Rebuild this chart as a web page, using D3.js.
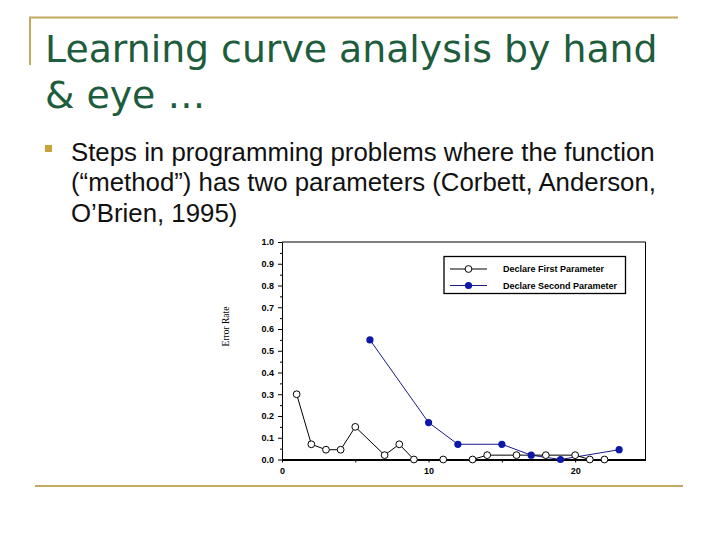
<!DOCTYPE html>
<html>
<head>
<meta charset="utf-8">
<title>Learning curve analysis</title>
<style>
  body { margin: 0; background: #fff; }
  .title { font-family: "DejaVu Sans", sans-serif; font-size: 37.8px; fill: #1d5c3c; }
  .bullet-text { font-family: "Liberation Sans", Arial, sans-serif; font-size: 25.8px; fill: #111; }
  .tick text { font-family: "Liberation Sans", Arial, sans-serif; font-size: 9px; font-weight: bold; fill: #000; }
  .legend text { font-family: "Liberation Sans", Arial, sans-serif; font-size: 9px; font-weight: bold; fill: #000; }
  .ylabel { font-family: "Liberation Serif", "Times New Roman", serif; font-size: 9.5px; fill: #000; }
</style>
</head>
<body>
<script src="https://cdn.jsdelivr.net/npm/d3@7"></script>
<script>
// data
var trialsFirst = [1, 2, 3, 4, 5, 7, 8, 9, 11, 13, 14, 16, 18, 20, 21, 22];
var errorsFirst = [0.30, 0.07, 0.045, 0.045, 0.15, 0.02, 0.07, 0, 0, 0, 0.02, 0.02, 0.02, 0.02, 0, 0];
var trialsSecond = [6, 10, 12, 15, 17, 19, 23];
var errorsSecond = [0.55, 0.17, 0.07, 0.07, 0.02, 0, 0.045];
var seriesNames = ["Declare First Parameter", "Declare Second Parameter"];
var xTicks = [0, 10, 20];
var yTicks = [0, 0.1, 0.2, 0.3, 0.4, 0.5, 0.6, 0.7, 0.8, 0.9, 1.0];

var titleLines = ["Learning curve analysis by hand", "& eye \u2026"];
var bulletLines = ["Steps in programming problems where the function",
                   "(\u201cmethod\u201d) has two parameters (Corbett, Anderson,",
                   "O\u2019Brien, 1995)"];

var gold = "#c2aa5e";

var svg = d3.select("body").append("svg")
    .attr("width", 720).attr("height", 540);
svg.append("rect").attr("width", 720).attr("height", 540).attr("fill", "#fff");

// slide decoration
svg.append("line").attr("x1", 29).attr("x2", 678).attr("y1", 17.5).attr("y2", 17.5)
    .attr("stroke", gold).attr("stroke-width", 2);
svg.append("line").attr("x1", 30).attr("x2", 30).attr("y1", 17).attr("y2", 65)
    .attr("stroke", gold).attr("stroke-width", 2);
svg.append("line").attr("x1", 35).attr("x2", 683).attr("y1", 486).attr("y2", 486)
    .attr("stroke", gold).attr("stroke-width", 2);

// title
svg.selectAll(".title").data(titleLines).enter().append("text")
    .attr("class", "title")
    .attr("x", 45)
    .attr("y", function(d, i) { return 62 + i * 46; })
    .text(function(d) { return d; });

// bullet
svg.append("rect").attr("x", 45).attr("y", 145).attr("width", 7).attr("height", 7).attr("fill", "#c9a23a");
svg.selectAll(".bullet-text").data(bulletLines).enter().append("text")
    .attr("class", "bullet-text")
    .attr("x", 71)
    .attr("y", function(d, i) { return 160.5 + i * 30.5; })
    .text(function(d) { return d; });

// chart
var plotLeft = 282, plotRight = 645.5, plotTop = 242, plotBottom = 459.5;
var x = d3.scaleLinear().domain([0, 24.8]).range([plotLeft, plotRight]);
var y = d3.scaleLinear().domain([0, 1]).range([plotBottom, plotTop]);

var chart = svg.append("g");

// frame
chart.append("line").attr("x1", plotLeft).attr("x2", plotRight).attr("y1", plotTop).attr("y2", plotTop).attr("stroke", "#000");
chart.append("line").attr("x1", plotRight).attr("x2", plotRight).attr("y1", plotTop).attr("y2", plotBottom).attr("stroke", "#000");

// minor ticks
chart.append("g")
    .attr("transform", "translate(" + plotLeft + ",0)")
    .call(d3.axisLeft(y).tickValues(d3.range(0.05, 1, 0.1)).tickSize(2).tickFormat(""))
    .call(function(g) { g.select(".domain").remove(); });
chart.append("g")
    .attr("transform", "translate(0," + plotBottom + ")")
    .call(d3.axisBottom(x).tickValues([5, 15]).tickSize(3).tickFormat(""))
    .call(function(g) { g.select(".domain").remove(); });

var yAxis = chart.append("g")
    .attr("transform", "translate(" + plotLeft + ",0)")
    .call(d3.axisLeft(y).tickValues(yTicks).tickSize(4).tickSizeOuter(0).tickPadding(4).tickFormat(d3.format(".1f")));
yAxis.select(".domain").attr("stroke-width", 1);

var xAxis = chart.append("g")
    .attr("transform", "translate(0," + plotBottom + ")")
    .call(d3.axisBottom(x).tickValues(xTicks).tickSize(3).tickSizeOuter(0).tickPadding(5));
xAxis.select(".domain").attr("stroke-width", 2);

chart.append("text").attr("class", "ylabel")
    .attr("transform", "translate(229,326.5) rotate(-90)")
    .attr("text-anchor", "middle")
    .text("Error Rate");

var first = trialsFirst.map(function(t, i) { return {t: t, e: errorsFirst[i]}; });
var second = trialsSecond.map(function(t, i) { return {t: t, e: errorsSecond[i]}; });
var line = d3.line().x(function(d) { return x(d.t); }).y(function(d) { return y(d.e); });

var blueLine = "#1a1a8a", blueDot = "#0c18a8";

chart.append("path").datum(second).attr("d", line)
    .attr("fill", "none").attr("stroke", blueLine).attr("stroke-width", 1);
chart.append("path").datum(first).attr("d", line)
    .attr("fill", "none").attr("stroke", "#000").attr("stroke-width", 1);

chart.selectAll(".dot2").data(second).enter().append("circle")
    .attr("class", "dot2")
    .attr("cx", function(d) { return x(d.t); })
    .attr("cy", function(d) { return y(d.e); })
    .attr("r", 3.6).attr("fill", blueDot);
chart.selectAll(".dot1").data(first).enter().append("circle")
    .attr("class", "dot1")
    .attr("cx", function(d) { return x(d.t); })
    .attr("cy", function(d) { return y(d.e); })
    .attr("r", 3.4).attr("fill", "#fff").attr("stroke", "#000").attr("stroke-width", 1);

// legend
var legend = chart.append("g").attr("class", "legend");
legend.append("rect").attr("x", 444).attr("y", 256.5).attr("width", 181.5).attr("height", 37)
    .attr("fill", "#fff").attr("stroke", "#000").attr("stroke-width", 1.3);
seriesNames.forEach(function(name, i) {
  var ly = 269 + i * 16.5;
  var col = i === 0 ? "#000" : blueLine;
  legend.append("line").attr("x1", 450).attr("x2", 487).attr("y1", ly).attr("y2", ly).attr("stroke", col);
  legend.append("circle").attr("cx", 468.5).attr("cy", ly).attr("r", i === 0 ? 3.4 : 3.6)
      .attr("fill", i === 0 ? "#fff" : blueDot).attr("stroke", i === 0 ? "#000" : "none");
  legend.append("text").attr("x", 503).attr("y", ly + 3).text(name);
});
</script>
</body>
</html>
